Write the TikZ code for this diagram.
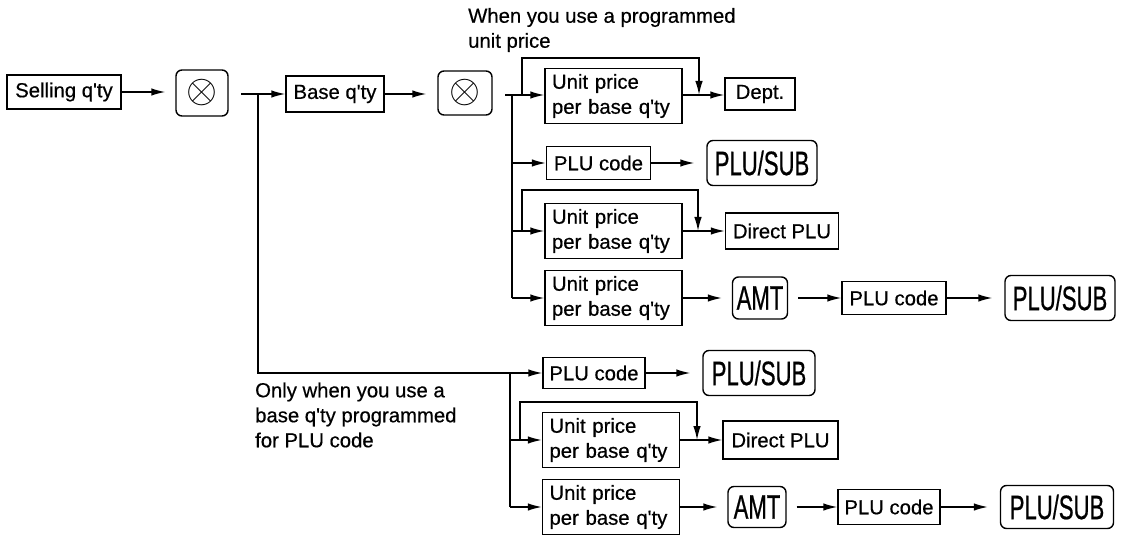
\documentclass[tikz,border=0pt]{standalone}
\usepackage{fontspec}
\usepackage{graphicx}
\usetikzlibrary{arrows.meta}
\newfontfamily\lsans[FakeBold=0.5]{Liberation Sans}
\newfontfamily\keyfam[FakeStretch=0.65,FakeBold=0.6]{Liberation Sans}
\newcommand\smallf{\lsans\fontsize{20.3}{25}\selectfont}
\newcommand\keyf{\keyfam\fontsize{34}{34}\selectfont}
\newcommand\qtyw{q\textquotesingle ty}
\newcommand\xkey{\resizebox{31pt}{!}{$\otimes$}}
\begin{document}
\begin{tikzpicture}[x=1pt,y=-1pt,
  box/.style={draw, line width=1.4pt, inner sep=0pt, font=\smallf},
  upbox/.style={box, text width=123pt, inner xsep=7pt, align=left, minimum height=55pt},
  key/.style={draw, line width=1.4pt, rounded corners=6pt, inner sep=0pt, font=\keyf},
  con/.style={line width=1.4pt},
  arr/.style={con, -{Latex[length=14pt,width=7.5pt]}},
  note/.style={inner sep=0pt, font=\smallf, align=left, anchor=west}]
\useasboundingbox (0,0) rectangle (1124,537);

% notes
\node[note] (n1) at (468,30) {When you use a programmed\\unit price};
\node[note] (n2) at (255,415) {Only when you use a\\base \qtyw{} programmed\\for PLU code};

% row 1
\node[box, minimum width=114pt, minimum height=34pt] (sell) at (64,92) {Selling \qtyw};
\node[key, minimum width=52pt, minimum height=46pt] (x1) at (202,93) {\xkey};
\node[box, minimum width=98pt, minimum height=36pt] (base) at (335,94) {Base \qtyw};
\node[key, minimum width=54pt, minimum height=44pt] (x2) at (465,93) {\xkey};
\node[upbox] (up1) at (613.5,96) {Unit price\\per base \qtyw};
\node[box, minimum width=70pt, minimum height=32pt] (dept) at (760,94) {Dept.};

% row 2
\node[box, minimum width=104pt, minimum height=33pt] (plu1) at (598.5,163) {PLU code};
\node[key, minimum width=110pt, minimum height=45pt] (ps1) at (762,163) {PLU/SUB};

% row 3
\node[upbox] (up2) at (613.5,231) {Unit price\\per base \qtyw};
\node[box, minimum width=113pt, minimum height=36pt] (dp1) at (782,231) {Direct PLU};

% row 4
\node[upbox] (up3) at (613.5,298) {Unit price\\per base \qtyw};
\node[key, minimum width=55pt, minimum height=42pt] (amt1) at (760,298) {AMT};
\node[box, minimum width=104pt, minimum height=33pt] (plu2) at (894,298) {PLU code};
\node[key, minimum width=110pt, minimum height=45pt] (ps2) at (1060,298) {PLU/SUB};

% row 5
\node[box, minimum width=102pt, minimum height=31pt] (plu3) at (594,373) {PLU code};
\node[key, minimum width=112pt, minimum height=45pt] (ps3) at (759,373) {PLU/SUB};

% row 6
\node[upbox] (up4) at (611,440) {Unit price\\per base \qtyw};
\node[box, minimum width=115pt, minimum height=38pt] (dp2) at (780.5,440) {Direct PLU};

% row 7
\node[upbox] (up5) at (611,507) {Unit price\\per base \qtyw};
\node[key, minimum width=58pt, minimum height=41pt] (amt2) at (757,507) {AMT};
\node[box, minimum width=102pt, minimum height=35pt] (plu4) at (889,507) {PLU code};
\node[key, minimum width=113pt, minimum height=43pt] (ps4) at (1057,507) {PLU/SUB};

% junction coordinates
\coordinate (j1s) at (241,94);
\coordinate (j1) at (258,94);
\coordinate (j2s) at (505,95);
\coordinate (j2) at (512,95);
\coordinate (j4) at (512,298);
\coordinate (l1) at (522,95);
\coordinate (k1) at (699,58);
\coordinate (m1) at (699,95);
\coordinate (l3) at (522,231);
\coordinate (k3) at (698,190);
\coordinate (m3) at (698,231);
\coordinate (j5) at (510,373);
\coordinate (j7) at (510,507);
\coordinate (l6) at (520,440);
\coordinate (k6) at (697,402);
\coordinate (m6) at (697,440);

% row 1 connectors
\draw[arr, shorten >=10pt] (sell.east) -- (sell.east -| x1.west);
\draw[arr] (j1s) -- (j1s -| base.west);
\draw[arr, shorten >=11pt] (base.east) -- (base.east -| x2.west);
\draw[arr] (j2s) -- (j2s -| up1.west);
\draw[arr] (l1) |- (k1) -- (m1);
\draw[arr] (m1 -| up1.east) -- (m1 -| dept.west);

% upper trunk
\draw[con] (j2) -- (j4);
\draw[arr] (plu1.west -| j2) -- (plu1.west);
\draw[arr, shorten >=12pt] (plu1.east) -- (ps1.west);
\draw[arr] (up2.west -| j2) -- (up2.west);
\draw[arr] (l3) |- (k3) -- (m3);
\draw[arr] (up2.east) -- (dp1.west);
\draw[arr] (j4) -- (up3.west);
\draw[arr, shorten >=10pt] (up3.east) -- (amt1.west);
\draw[arr, shorten <=10pt] (amt1.east) -- (plu2.west);
\draw[arr, shorten >=12pt] (plu2.east) -- (ps2.west);

% lower part
\draw[arr] (j1) |- (plu3.west);
\draw[arr, shorten >=12pt] (plu3.east) -- (ps3.west);
\draw[con] (j5) -- (j7);
\draw[arr] (up4.west -| j5) -- (up4.west);
\draw[arr] (l6) |- (k6) -- (m6);
\draw[arr] (up4.east) -- (dp2.west);
\draw[arr] (j7) -- (up5.west);
\draw[arr, shorten >=10pt] (up5.east) -- (amt2.west);
\draw[arr, shorten <=10pt] (amt2.east) -- (plu4.west);
\draw[arr, shorten >=12pt] (plu4.east) -- (ps4.west);
\end{tikzpicture}
\end{document}
